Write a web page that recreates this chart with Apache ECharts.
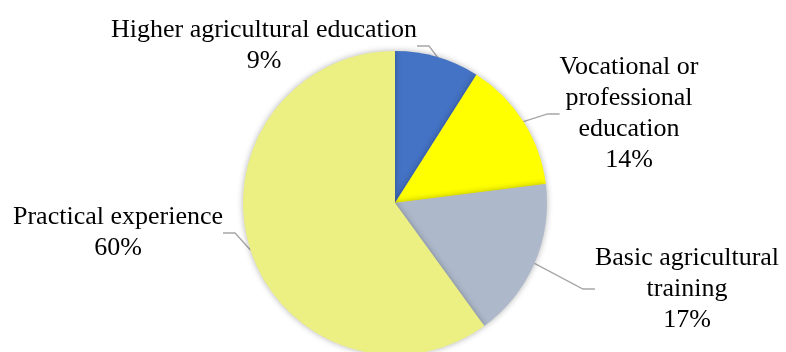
<!DOCTYPE html>
<html><head><meta charset="utf-8">
<script src="https://cdn.jsdelivr.net/npm/echarts@6/dist/echarts.min.js"></script>
<style>html,body{margin:0;padding:0;background:#fff}#c{width:786px;height:352px}</style>
</head><body><div id="c"></div>
<script>
const categories = ['Higher agricultural education', 'Vocational or\nprofessional\neducation', 'Basic agricultural\ntraining', 'Practical experience'];
const values = [9, 14, 17, 60];
const colors = ['#4472C4', '#FFFF00', '#ADB9CA', '#ECEF82'];
const labelPos = [[264, 46], [629, 114], [687, 289], [118, 233]];

const chart = echarts.init(document.getElementById('c'), null, {renderer: 'canvas'});
chart.setOption({
  animation: false,
  series: [{
    type: 'pie',
    center: [395, 203],
    radius: 152,
    startAngle: 90,
    clockwise: true,
    data: categories.map((n, i) => ({name: n, value: values[i], itemStyle: {color: colors[i]}})),
    itemStyle: {shadowBlur: 6, shadowColor: 'rgba(0,0,0,0.3)', borderWidth: 0},
    emphasis: {disabled: true},
    label: {
      show: true,
      formatter: p => p.name + '\n' + p.value + '%',
      fontFamily: 'Liberation Serif',
      fontSize: 26,
      lineHeight: 31,
      color: '#000',
      align: 'center',
      overflow: 'none'
    },
    labelLine: {show: true, length: 20, length2: 12, lineStyle: {color: '#A6A6A6', width: 1.3}},
    labelLayout: function (params) {
      const p = labelPos[params.dataIndex];
      return {x: p[0], y: p[1], align: 'center', verticalAlign: 'middle'};
    }
  }]
});
</script></body></html>
